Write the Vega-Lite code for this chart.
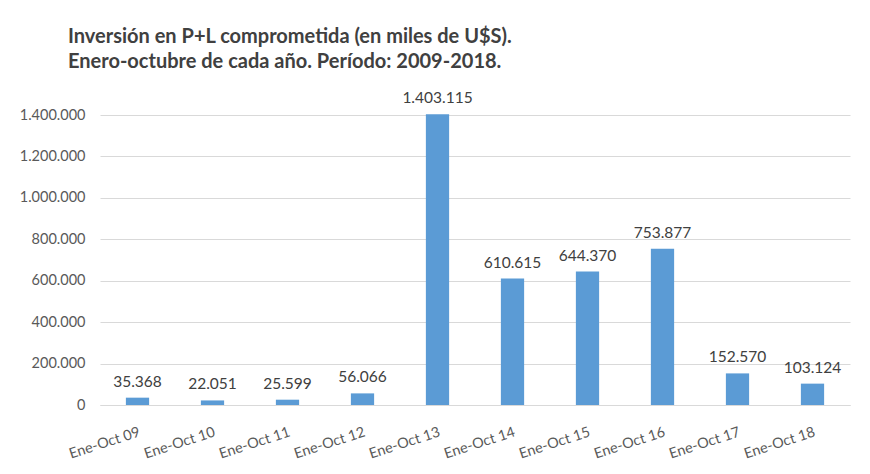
{
  "$schema": "https://vega.github.io/schema/vega-lite/v6.json",
  "autosize": "none",
  "width": 750,
  "height": 290,
  "padding": {"left": 100, "top": 115, "right": 20, "bottom": 69},
  "background": "white",
  "title": {
    "text": ["Inversión en P+L comprometida (en miles de U$S).", "Enero-octubre de cada año. Período: 2009-2018."],
    "anchor": "start",
    "frame": "group",
    "dx": -32,
    "offset": 19,
    "font": "Lato",
    "fontSize": 20,
    "fontWeight": "bold",
    "color": "#404040",
    "lineHeight": 25
  },
  "data": {
    "values": [
      {"periodo": "Ene-Oct 09", "valor": 35368},
      {"periodo": "Ene-Oct 10", "valor": 22051},
      {"periodo": "Ene-Oct 11", "valor": 25599},
      {"periodo": "Ene-Oct 12", "valor": 56066},
      {"periodo": "Ene-Oct 13", "valor": 1403115},
      {"periodo": "Ene-Oct 14", "valor": 610615},
      {"periodo": "Ene-Oct 15", "valor": 644370},
      {"periodo": "Ene-Oct 16", "valor": 753877},
      {"periodo": "Ene-Oct 17", "valor": 152570},
      {"periodo": "Ene-Oct 18", "valor": 103124}
    ]
  },
  "encoding": {
    "x": {
      "field": "periodo",
      "type": "nominal",
      "sort": null,
      "scale": {"paddingInner": 0.69, "paddingOuter": 0.345},
      "axis": {
        "title": null,
        "labelAngle": -18,
        "labelAlign": "right",
        "labelBaseline": "top",
        "labelPadding": 20,
        "labelFont": "Lato",
        "labelFontSize": 14.5,
        "labelColor": "#595959",
        "ticks": false,
        "domainColor": "#d9d9d9",
        "grid": false
      }
    },
    "y": {
      "field": "valor",
      "type": "quantitative",
      "scale": {"domain": [0, 1400000], "nice": false},
      "axis": {
        "title": null,
        "values": [0, 200000, 400000, 600000, 800000, 1000000, 1200000, 1400000],
        "format": ",d",
        "labelFont": "Lato",
        "labelFontSize": 14.5,
        "labelColor": "#595959",
        "labelPadding": 15,
        "ticks": false,
        "domain": false,
        "gridColor": "#d9d9d9"
      }
    }
  },
  "layer": [
    {"mark": {"type": "bar", "color": "#5b9bd5"}},
    {
      "mark": {"type": "text", "baseline": "bottom", "dy": -8, "font": "Lato", "fontSize": 15.5, "color": "#404040"},
      "encoding": {"text": {"field": "valor", "type": "quantitative", "format": ",d"}}
    }
  ],
  "config": {
    "view": {"stroke": null},
    "locale": {
      "number": {"decimal": ",", "thousands": ".", "grouping": [3], "currency": ["$", ""]}
    }
  }
}
